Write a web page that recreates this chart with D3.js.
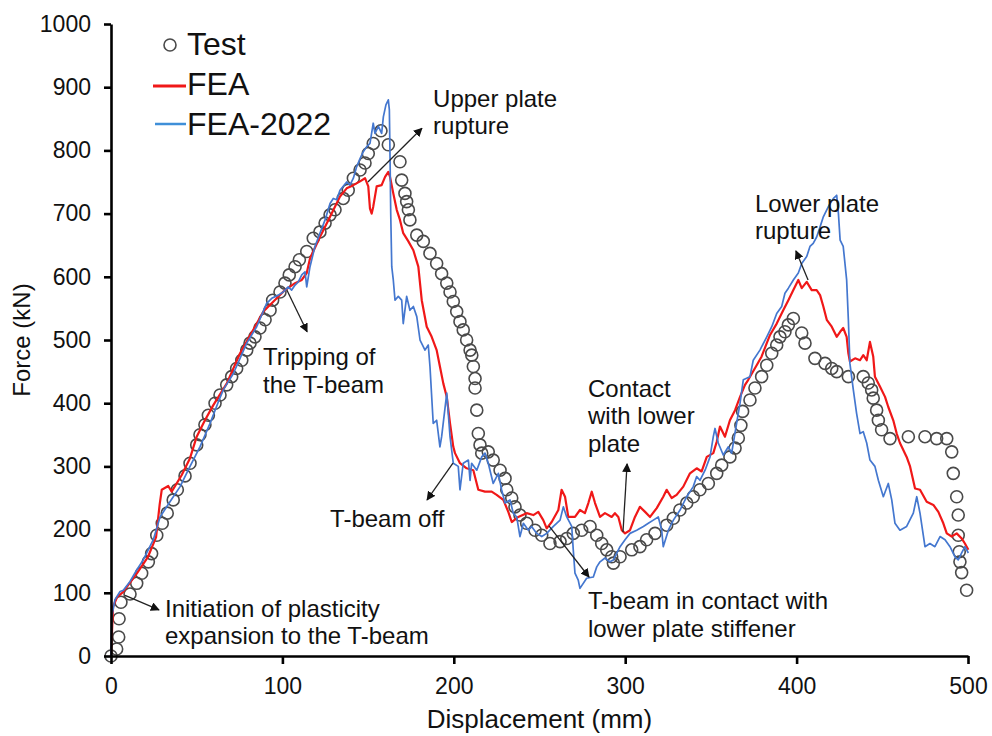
<!DOCTYPE html>
<html>
<head>
<meta charset="utf-8">
<script src="https://cdn.jsdelivr.net/npm/d3@7/dist/d3.min.js"></script>
<style>
	body { margin: 0; background: #fff; }
	svg text { font-family: "Liberation Sans", Arial, sans-serif; fill: #111; }
	.axis path, .axis line { stroke: #000; stroke-width: 2.6; }
	.axis text { font-size: 23px; }
	.note { font-size: 24px; }
</style>
</head>
<body>
<div class="chart-container"></div>
<script>
// test points [displacement mm, force kN]
var testData = [
	[0,0],[3.3,11],[4.5,30],[4.7,59],[5.8,85],[11.1,98],[15,115],[17.9,131],[21.8,149],[23.7,162],
	[26.7,191],[29.9,210],[32.8,226],[36.3,247],[38.7,263],[43.2,285],[46.1,305],[50,334],[51.9,350],[54.8,366],
	[56.8,381],[60.7,400],[63.6,413],[67.5,429],[70.4,442],[73.3,455],[76.3,468],[79.2,484],[81.1,495],[84,505],
	[86.9,519],[89.9,532],[92.8,547],[94.3,563],[98.6,576],[101.5,590],[104,603],[107.4,616],[109.9,627],[114.2,640],
	[118,661],[121.9,671],[124.9,685],[127.8,698],[130.7,706],[135.5,724],[138.4,737],[141.4,756],[145.3,769],[148.2,780],
	[150.1,795],[153,811],[157.5,831],[161.8,809],[168.6,782],[169.6,753],[171.5,732],[172.5,719],[173.5,706],[174.4,690],
	[178.4,666],[182.2,656],[186.1,637],[190,621],[192.9,605],[195.9,590],[197.8,576],[199.7,561],[201.7,545],[203.6,529],
	[205.5,516],[207.5,500],[209.5,484],[210.5,476],[211.4,458],[212.4,439],[212.4,424],[213.4,389],[214.3,352],[215.3,334],
	[216.3,321],[220.1,323],[223,310],[227,294],[229.9,281],[230.9,263],[233.8,250],[235.7,236],[238.6,223],[242.5,210],
	[247.4,199],[251.3,191],[256.1,178],[262,181],[265.9,186],[269.7,194],[274.6,199],[279.5,205],[283.4,191],[286.3,178],
	[289.2,168],[292.1,157],[293.1,147],[297,157],[303.8,168],[308.6,173],[312.5,184],[317.4,194],[324.2,207],[328.1,218],
	[331.9,231],[335.9,242],[339.7,252],[343.6,263],[348.5,273],[353.4,289],[356.3,302],[361.1,315],[364.1,329],[366,345],
	[367.5,365],[368.5,387],[372.8,405],[375.7,424],[379.6,442],[382.6,460],[385.5,479],[388.4,492],[390.3,505],[393.2,513],
	[395.2,524],[398.1,534],[403,511],[404.9,495],[410.7,471],[416.6,463],[420.5,455],[423.4,450],[430.2,442],[438.9,442],
	[441.8,432],[443.8,421],[444.7,408],[446.7,389],[447.7,373],[449.6,358],[454.5,344],[465.2,347],[474.9,347],[481.7,344],
	[487.6,344],[490.5,323],[491.4,289],[493.4,252],[494.3,223],[494.3,191],[494.9,165],[495.3,149],[496.3,132],[499.2,104]
];

var feaData = [
	[0,0],[1.2,78],[3.5,93],[7,101],[15.2,131],[21.6,157],[26.3,188],[28.4,240],[29.6,263],[33.4,269],[35.4,260],
	[41.2,286],[46.1,313],[50,347],[54.8,373],[59.7,397],[67.5,431],[75.3,479],[83,516],[88.9,545],[96.7,566],
	[101.5,579],[107.4,590],[111.3,595],[114.2,606],[116.1,629],[121.9,663],[127.8,695],[133.6,727],[137.5,740],[141.4,745],
	[145.3,751],[148.2,756],[150.1,743],[151.1,708],[152.1,700],[153,711],[155,743],[157.9,745],[159.9,758],[161.8,766],
	[162.8,758],[164.7,732],[166.7,706],[168.6,690],[170.5,669],[173.5,656],[176.4,642],[179.3,616],[181.3,563],[184.2,521],
	[187.1,505],[190,484],[191.9,458],[193.9,431],[195.9,410],[197.8,368],[199.7,331],[200.7,321],[203.6,305],[207.5,297],
	[211.4,294],[214.3,263],[218.2,260],[222.1,260],[225,255],[228.9,247],[231.8,228],[233.8,212],[237.6,220],[242.5,226],
	[246.4,223],[249.3,228],[252.2,215],[254.2,202],[257.1,212],[261,231],[262.9,263],[264.9,252],[266.8,220],[270.7,220],
	[273.6,231],[276.5,226],[278.5,242],[280.5,260],[282.4,242],[285.3,220],[288.2,226],[292.1,220],[294,226],[296,220],
	[298,199],[299.9,194],[302.8,199],[305.7,220],[308.6,236],[311.6,228],[314.5,220],[318.4,234],[322.2,252],[324.2,263],
	[327.1,250],[330,255],[333.9,268],[337.8,289],[341.7,297],[344.6,292],[347.6,315],[351.4,321],[353.4,339],[355.3,363],
	[358.2,347],[361.1,373],[364.1,389],[367,410],[369.9,429],[371.8,437],[376.7,460],[379.6,474],[382.6,495],[384.5,508],
	[388.4,526],[392.2,547],[395.2,563],[398.1,579],[401,595],[403,582],[405.9,592],[408.8,579],[411.7,579],[413.7,571],
	[415.6,553],[417.6,532],[420.5,521],[423.4,505],[425.4,513],[427.2,519],[429.2,505],[430.2,479],[431.1,466],[434.1,471],
	[437,468],[438.9,476],[440.9,468],[442.8,497],[444.7,474],[445.7,442],[448.7,426],[451.6,410],[453.5,394],[456.4,373],
	[458.4,352],[460.3,337],[464.2,315],[466.2,300],[469.1,265],[472,263],[475.9,244],[479.8,239],[482.7,228],[485.6,210],
	[487.6,194],[490.5,189],[493.4,194],[496.3,186],[498.2,178],[500.2,168]
];

var fea2022Data = [
	[0,0],[0.4,62],[2.3,89],[5.3,102],[7.2,104],[11.1,118],[15,136],[18.8,152],[24.7,184],[28.6,220],
	[34.4,244],[40.3,268],[46.1,300],[51.9,331],[57.8,368],[62.6,402],[65.5,421],[71.4,447],[79.2,495],[85,521],
	[90.8,558],[93.8,566],[97.6,571],[100.5,576],[103.4,584],[105.4,579],[107.4,587],[109.3,592],[111.3,603],[113.2,608],
	[114.2,584],[116.1,616],[119,648],[121.9,669],[124.9,690],[127.8,716],[129.7,724],[131.7,722],[133.6,737],[137.5,750],
	[139.4,745],[141.4,756],[143.3,774],[145.3,787],[147.2,798],[149.2,806],[151.1,811],[153,843],[154,827],[156,838],
	[157.9,827],[158.9,853],[160.4,872],[161.8,880],[162.4,864],[162.8,790],[163.2,700],[163.8,616],[164.7,595],[165.7,563],
	[167.6,569],[169.6,563],[170.5,526],[172.5,569],[174.4,547],[176.4,553],[178.4,537],[180.3,500],[183.2,484],[185.1,492],
	[186.1,458],[188,368],[190,373],[191.9,331],[192.9,347],[195.9,416],[197.8,347],[199.7,305],[202.6,300],[203.6,263],
	[205.5,305],[208.5,310],[209.5,278],[210.4,305],[213.4,294],[216.3,315],[218.2,321],[220.1,305],[223,273],[226,289],
	[227.9,263],[229.9,242],[232.8,247],[234.7,226],[236.7,220],[238.6,189],[240.6,210],[243.5,199],[245.4,205],[248.4,194],
	[251.3,189],[254.2,194],[258.1,205],[262,215],[263.9,236],[265.9,220],[268.8,205],[269.7,168],[270.7,131],[272.6,120],
	[273.6,107],[277.5,123],[281.4,125],[283.4,141],[285.3,149],[288.2,155],[291.1,149],[293.1,152],[297,173],[299.9,184],
	[302.8,194],[306.7,199],[310.6,205],[313.5,210],[316.4,215],[319.3,220],[321.3,199],[322.2,173],[325.2,199],[328.1,215],
	[332,231],[335.9,252],[339.7,268],[341.7,284],[343.6,278],[346.6,294],[349.5,315],[351.4,347],[352.4,360],[354.3,337],
	[357.2,318],[360.2,331],[362.1,321],[365,368],[367,400],[368.9,437],[372.8,442],[374.7,468],[378.6,484],[382.6,505],
	[385.5,521],[388.4,542],[391.3,553],[393.2,574],[395.2,582],[398.1,595],[401,606],[403,621],[405.9,632],[407.8,648],
	[409.7,653],[411.7,663],[413.7,679],[415.6,695],[417.6,706],[419.5,716],[421.5,724],[423.4,729],[424.4,700],[425.4,658],
	[427.2,648],[429.2,595],[430.2,532],[431.1,463],[433.1,421],[435,384],[437,352],[438.9,355],[440.9,337],[442.8,310],
	[445.7,300],[447.7,278],[450.6,252],[453.5,273],[455.5,247],[457.4,210],[460.3,199],[464.2,205],[468.1,226],[470.1,252],
	[472,226],[474.9,173],[477.8,178],[480.7,173],[483.7,189],[486.6,184],[489.5,173],[492.4,157],[494.3,152],[496.3,163],
	[498.2,173],[500.2,163]
];

var xTicks = [0, 100, 200, 300, 400, 500];
var yTicks = [0, 100, 200, 300, 400, 500, 600, 700, 800, 900, 1000];
var legendLabels = ["Test", "FEA", "FEA-2022"];

// annotations: text lines, first baseline [x, y] and arrow [x1, y1, x2, y2] in data units
var notes = [
	{lines: ["Initiation of plasticity", "expansion to the T-beam"], at: [31.5, 62], arrow: [8.2, 96, 28, 73]},
	{lines: ["Tripping of", "the T-beam"], at: [88.7, 460], arrow: [102.6, 579, 114.4, 513]},
	{lines: ["Upper plate", "rupture"], at: [187.9, 869], arrow: [149.9, 750, 181.4, 835]},
	{lines: ["T-beam off"], at: [127.8, 204], arrow: [199.5, 305, 184.4, 247]},
	{lines: ["Contact", "with lower", "plate"], at: [278.3, 410], arrow: [298.7, 196, 301.1, 304]},
	{lines: ["T-beam in contact with", "lower plate stiffener"], at: [278.3, 74], arrow: [255.5, 206, 278.9, 125]},
	{lines: ["Lower plate", "rupture"], at: [375.7, 703], arrow: [406.7, 595, 399.6, 641]}
];

var width = 992,
	height = 736,
	margin = {top: 24, right: 24, bottom: 80, left: 111};

var svg = d3.select(".chart-container").append("svg")
	.attr("width", width)
	.attr("height", height);

var x = d3.scaleLinear()
	.domain([0, 500])
	.range([margin.left, width - margin.right]);

var y = d3.scaleLinear()
	.domain([0, 1000])
	.range([height - margin.bottom, margin.top]);

svg.append("defs").append("marker")
	.attr("id", "head")
	.attr("viewBox", "0 0 10 10")
	.attr("refX", 9)
	.attr("refY", 5)
	.attr("markerWidth", 9)
	.attr("markerHeight", 9)
	.attr("markerUnits", "userSpaceOnUse")
	.attr("orient", "auto")
	.append("path")
		.attr("d", "M0,0L10,5L0,10z")
		.attr("fill", "#111");

var line = d3.line()
	.x(function(d) { return x(d[0]); })
	.y(function(d) { return y(d[1]); });

// test circles
svg.append("g")
	.selectAll("circle")
	.data(testData)
	.enter().append("circle")
		.attr("cx", function(d) { return x(d[0]); })
		.attr("cy", function(d) { return y(d[1]); })
		.attr("r", 6)
		.attr("fill", "none")
		.attr("stroke", "#4a4a4a")
		.attr("stroke-width", 1.6);

svg.append("path")
	.datum(feaData)
	.attr("fill", "none")
	.attr("stroke", "#f01818")
	.attr("stroke-width", 2.2)
	.attr("stroke-linejoin", "round")
	.attr("d", line);

svg.append("path")
	.datum(fea2022Data)
	.attr("fill", "none")
	.attr("stroke", "#4477cf")
	.attr("stroke-width", 1.7)
	.attr("stroke-linejoin", "round")
	.attr("d", line);

// axes
svg.append("g")
	.attr("class", "axis")
	.attr("transform", "translate(0," + y(0) + ")")
	.call(d3.axisBottom(x).tickValues(xTicks).tickSize(8).tickSizeOuter(0).tickPadding(14));

svg.append("g")
	.attr("class", "axis")
	.attr("transform", "translate(" + x(0) + ",0)")
	.call(d3.axisLeft(y).tickValues(yTicks).tickFormat(d3.format("d")).tickSize(7).tickSizeOuter(0).tickPadding(13));

svg.selectAll(".axis text").attr("font-family", null);

svg.append("text")
	.attr("x", (x(0) + x(500)) / 2)
	.attr("y", 728)
	.attr("text-anchor", "middle")
	.style("font-size", "26px")
	.text("Displacement (mm)");

svg.append("text")
	.attr("transform", "translate(30," + (y(0) + y(1000)) / 2 + ") rotate(-90)")
	.attr("text-anchor", "middle")
	.style("font-size", "24px")
	.text("Force (kN)");

// annotations
var gNotes = svg.append("g");
notes.forEach(function(n) {
	gNotes.append("line")
		.attr("x1", x(n.arrow[0]))
		.attr("y1", y(n.arrow[1]))
		.attr("x2", x(n.arrow[2]))
		.attr("y2", y(n.arrow[3]))
		.attr("stroke", "#222")
		.attr("stroke-width", 1.3)
		.attr("marker-end", "url(#head)");
	var t = gNotes.append("text")
		.attr("class", "note")
		.attr("x", x(n.at[0]))
		.attr("y", y(n.at[1]));
	n.lines.forEach(function(s, i) {
		t.append("tspan")
			.attr("x", x(n.at[0]))
			.attr("dy", i ? 27.5 : 0)
			.text(s);
	});
});

// legend
var gLegend = svg.append("g")
	.attr("class", "legend");

gLegend.append("circle")
	.attr("cx", 170)
	.attr("cy", 45)
	.attr("r", 6)
	.attr("fill", "none")
	.attr("stroke", "#4a4a4a")
	.attr("stroke-width", 1.6);

gLegend.append("line")
	.attr("x1", 153).attr("x2", 186)
	.attr("y1", 86).attr("y2", 86)
	.attr("stroke", "#f01818")
	.attr("stroke-width", 3);

gLegend.append("line")
	.attr("x1", 155).attr("x2", 186)
	.attr("y1", 124).attr("y2", 124)
	.attr("stroke", "#3f8fd8")
	.attr("stroke-width", 2.5);

gLegend.selectAll("text")
	.data(legendLabels)
	.enter().append("text")
		.attr("x", 187)
		.attr("y", function(d, i) { return 55 + i * 40; })
		.style("font-size", "32px")
		.text(function(d) { return d; });
</script>
</body>
</html>
